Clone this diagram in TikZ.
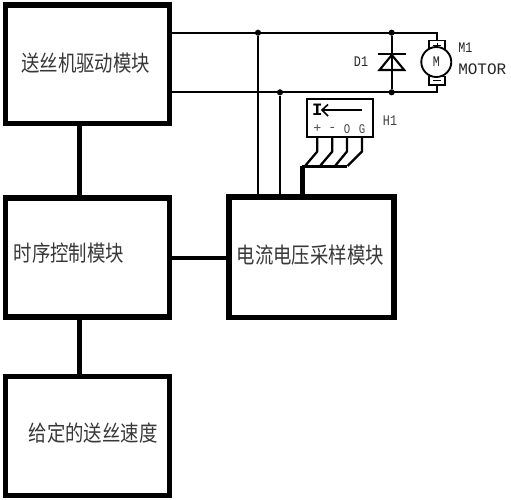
\documentclass[tikz,border=0pt]{standalone}
\usepackage{fontspec}
\setmainfont{Liberation Mono}
\newfontfamily\cjk{Noto Sans CJK SC}
\newcommand{\narrowtxt}[1]{\scalebox{0.8}[1]{#1}}
\newcommand{\tallcn}[1]{\scalebox{1}[1.2]{#1}}
\begin{document}
\begin{tikzpicture}[x=0.75pt,y=-0.75pt,
  block/.style={draw,line width=4.1pt,outer sep=0pt,inner sep=0pt,anchor=center},
  wire/.style={line width=1.5pt},
  link/.style={line width=3.2pt},
  pin/.style={line width=1.7pt,line join=round},
  dot/.style={circle,fill=black,inner sep=0pt,minimum size=4.6pt},
  cn/.style={font=\cjk\fontsize{13.8}{14}\selectfont,inner sep=0pt,text=black!78},
  lab/.style={font=\fontsize{11}{12}\selectfont,inner sep=0pt,text=black!85},
  pinlab/.style={font=\fontsize{10}{11}\selectfont,inner sep=0pt,text=black!70}]
\useasboundingbox (0,0) rectangle (511,500);
\fill[white] (0,0) rectangle (511,500);
% blocks
\node[block,minimum width=123pt,minimum height=88.9pt] (drv) at (87.5,64.25) {};
\node[block,minimum width=123pt,minimum height=89.25pt] (seq) at (87.5,257.5) {};
\node[block,minimum width=123.75pt,minimum height=90.4pt] (smp) at (311.5,257.25) {};
\node[block,minimum width=123pt,minimum height=89.25pt] (spd) at (87.5,436) {};
\node[cn,anchor=west] (t1) at (21,63) {\tallcn{送丝机驱动模块}};
\node[cn,anchor=west] (t2) at (13.5,253) {\tallcn{时序控制模块}};
\node[cn,anchor=west] (t3) at (236.5,255) {\tallcn{电流电压采样模块}};
\node[cn,anchor=west] (t4) at (28.5,433) {\tallcn{给定的送丝速度}};
\coordinate (s1) at (79.5,0);
\coordinate (s2) at (0,258);
\coordinate (s3) at (302.3,165.5);
\draw[link] (drv.south -| s1) -- (seq.north -| s1);
\draw[link] (seq.south -| s1) -- (spd.north -| s1);
\draw[link,line width=3.6pt] (seq.east |- s2) -- (smp.west |- s2);
% coordinates
\coordinate (a1) at (172,32.7);
\coordinate (a2) at (436.7,32.7);
\coordinate (b1) at (172,92.3);
\coordinate (b2) at (436.7,92.3);
\node[dot] (d1) at (258,32.7) {};
\node[dot] (d2) at (391.7,32.7) {};
\node[dot] (d3) at (280,92.3) {};
\node[dot] (d4) at (391.7,92.3) {};
\draw[wire,line join=miter] (a1) -- (a2) -- (436.7,41);
\draw[wire,line join=miter] (b1) -- (b2) -- (436.7,84);
\draw[wire] (d1) -- (d1 |- smp.north);
\draw[wire] (d3) -- (d3 |- smp.north);
\draw[wire] (d2) -- (d4);
% diode
\draw[line width=1.6pt] (378,54.3) -- (405.7,54.3);
\draw[line width=1.6pt,line join=miter] (391.8,55) -- (379.5,70) -- (404.2,70) -- cycle;
\node[lab,anchor=center] (dl) at (361,62) {\narrowtxt{D1}};
% motor
\draw[line width=1.3pt] (429,40.5) rectangle (445,49);
\draw[line width=1.3pt] (429,76.5) rectangle (445,85);
\draw[line width=1.4pt,fill=white] (436.3,62) circle (15);
\node[lab] (mm) at (436.3,62) {\narrowtxt{M}};
\draw[line width=0.7pt] (433,45) -- (441,45) (437,42.5) -- (437,47.5);
\draw[line width=0.9pt] (433,80.5) -- (441,80.5);
\node[lab,anchor=west] (m1) at (458,48) {\narrowtxt{M1}};
\node[lab,anchor=west,font=\fontsize{12}{13}\selectfont] (mo) at (458,69) {MOTOR};
% H1
\node[draw,line width=1.5pt,outer sep=0pt,inner sep=0pt,minimum width=49.5pt,minimum height=28.5pt] (hb) at (339.7,118.3) {};
\node[lab,font=\fontsize{13}{14}\bfseries\selectfont,text=black] (hi) at (317.3,109.5) {I};
\draw[line width=1.2pt] (322,110) -- (361.7,110);
\draw[line width=1.2pt] (328,104.5) -- (322,110) -- (328,116);
\node[pinlab] (h1) at (317.3,129) {+};
\node[pinlab] (h2) at (332.3,129) {-};
\node[pinlab] (h3) at (347,129) {\narrowtxt{O}};
\node[pinlab] (h4) at (362,129) {\narrowtxt{G}};
\node[lab,anchor=center,text=black!75] (hl) at (390,121) {\narrowtxt{H1}};
\draw[pin] (h1 |- hb.south) -- (317.3,151.5) -- (305,166);
\draw[pin] (h2 |- hb.south) -- (332.3,151.5) -- (320,166);
\draw[pin] (h3 |- hb.south) -- (347,151.5) -- (335,166);
\draw[pin] (h4 |- hb.south) -- (362,151.5) -- (347.5,166);
\draw[line width=2.6pt] (347,166.7) -- (302,166.7);
\draw[line width=3.5pt,line cap=butt] (s3) -- (s3 |- smp.north);
\end{tikzpicture}
\end{document}
